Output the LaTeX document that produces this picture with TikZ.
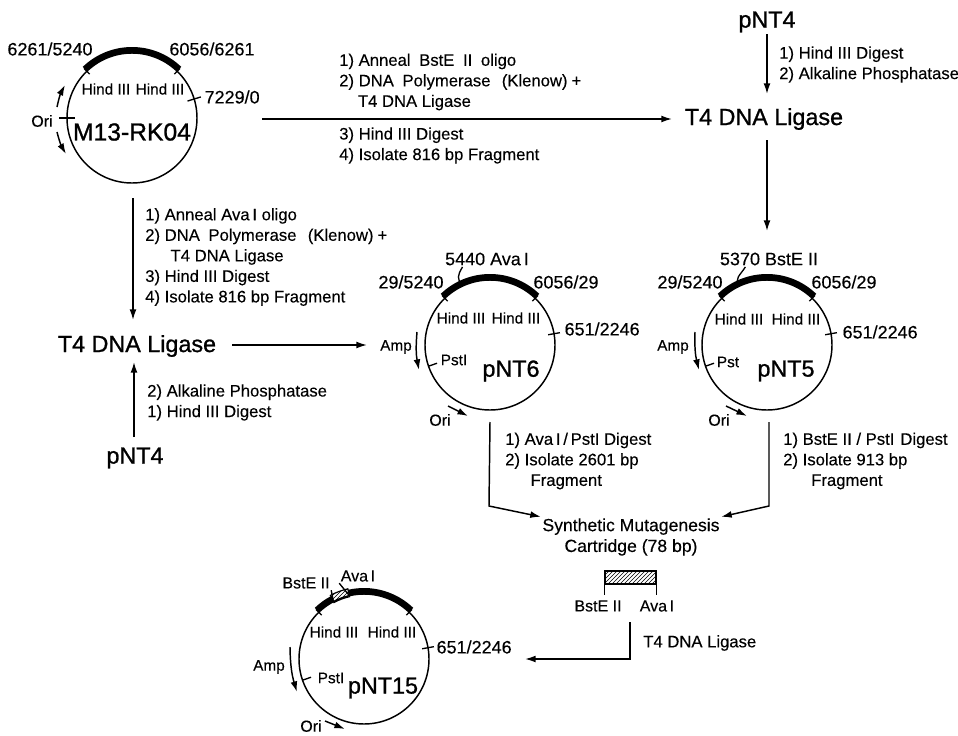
\documentclass[tikz,border=0pt]{standalone}
\usepackage{fontspec}
\setmainfont[FakeBold=0.25]{Liberation Sans}
\newfontfamily\namefont[FakeBold=1]{Liberation Sans}
\usetikzlibrary{arrows.meta,patterns}

\newcommand{\sitetick}[4]{\draw[tick] ([shift={(#2:-#3)}]#1.#2) -- ([shift={(#2:#4)}]#1.#2);}
\newcommand{\insertarc}[3]{\draw[insert] ([shift={(#2:3)}]#1.#2) arc[start angle=#2, end angle=#3, radius=68];}

\begin{document}
\begin{tikzpicture}[
  x=0.75pt, y=0.75pt,
  plasmid/.style={circle, draw, line width=1.1pt, minimum size=97.5pt, inner sep=0pt, outer sep=0pt},
  big/.style={font=\namefont\fontsize{17.5}{20}\selectfont, inner sep=1pt},
  steps/.style={font=\fontsize{12.5}{15.4}\selectfont, align=left, anchor=west, inner sep=0pt},
  site/.style={font=\fontsize{13.5}{16}\selectfont, inner sep=1pt},
  small/.style={font=\fontsize{11.5}{13}\selectfont, inner sep=1pt},
  enzyme/.style={font=\fontsize{12}{14}\selectfont, inner sep=1pt},
  arr/.style={-{Latex[length=2.8mm, width=1.8mm]}, line width=1.1pt},
  tick/.style={line width=1pt},
  insert/.style={line width=4.5pt}
]
\useasboundingbox (0,0) rectangle (958,-736);

% plasmids
\node[plasmid] (m13) at (132,-118) {};
\node[plasmid] (pnt6) at (490,-345) {};
\node[plasmid] (pnt5) at (767,-345) {};
\node[plasmid] (pnt15) at (364,-659) {};

\insertarc{m13}{134}{46}
\insertarc{pnt6}{134}{46}
\insertarc{pnt5}{134}{46}
\insertarc{pnt15}{134}{118}
\insertarc{pnt15}{103}{46}
\draw[line width=0.9pt, pattern=north east lines] ([shift={(118:-1)}]pnt15.118) arc[start angle=118, end angle=103, radius=64] -- ([shift={(103:7)}]pnt15.103) arc[start angle=103, end angle=118, radius=71] -- cycle;

% M13-RK04
\node[font=\namefont\fontsize{18.5}{22}\selectfont, inner sep=1pt] (m13name) at (132,-132) {M13-RK04};
\node[site] (m13a) at (50,-49) {6261/5240};
\node[site] (m13b) at (212,-49) {6056/6261};
\node[small] (m13h1) at (106,-89) {Hind III};
\node[small] (m13h2) at (160,-89) {Hind III};
\node[site, anchor=west] (m13c) at (203,-97) {7229/0};
\node[enzyme] (m13ori) at (42,-121) {Ori};
\sitetick{m13}{134}{4}{4}
\sitetick{m13}{46}{4}{4}
\sitetick{m13}{17}{7}{7}
\sitetick{m13}{180}{8}{8}
\coordinate (oriup1) at (57,-107);
\coordinate (oriup2) at (65,-85);
\coordinate (oridn1) at (57,-132);
\coordinate (oridn2) at (66,-154);
\draw[arr] (oriup1) to[bend left=8] (oriup2);
\draw[arr] (oridn1) to[bend right=8] (oridn2);

% pNT6
\node[big] (pnt6name) at (511,-371) {pNT6};
\node[site] (pnt6ava) at (487,-259) {5440 Ava\,I};
\node[site] (pnt6a) at (411,-282) {29/5240};
\node[site] (pnt6b) at (566,-282) {6056/29};
\node[small] (pnt6h1) at (461,-318) {Hind III};
\node[small] (pnt6h2) at (516,-318) {Hind III};
\node[site, anchor=west] (pnt6c) at (563,-329) {651/2246};
\node[small] (pnt6amp) at (396,-347) {Amp};
\node[small] (pnt6pst) at (454,-360) {PstI};
\node[enzyme] (pnt6ori) at (440,-420) {Ori};
\sitetick{pnt6}{134}{4}{4}
\sitetick{pnt6}{46}{4}{4}
\sitetick{pnt6}{10}{6}{6}
\sitetick{pnt6}{199}{0}{-9}
\draw[tick] (pnt6ava.south west) ++(19,0) .. controls +(-5,-8) and +(-6,7) .. (pnt6.115);
\coordinate (amp6a) at (417,-332);
\coordinate (amp6b) at (419,-370);
\coordinate (ori6a) at (448,-406);
\coordinate (ori6b) at (468,-416);
\draw[arr] (amp6a) to[bend right=8] (amp6b);
\draw[arr] (ori6a) -- (ori6b);

% pNT5
\node[big] (pnt5name) at (786,-371) {pNT5};
\node[site] (pnt5bst) at (769,-259) {5370 BstE II};
\node[site] (pnt5a) at (690,-282) {29/5240};
\node[site] (pnt5b) at (844,-282) {6056/29};
\node[small] (pnt5h1) at (739,-319) {Hind III};
\node[small] (pnt5h2) at (796,-319) {Hind III};
\node[site, anchor=west] (pnt5c) at (841,-332) {651/2246};
\node[small] (pnt5amp) at (673,-347) {Amp};
\node[small] (pnt5pst) at (728,-362) {Pst};
\node[enzyme] (pnt5ori) at (719,-420) {Ori};
\sitetick{pnt5}{134}{4}{4}
\sitetick{pnt5}{46}{4}{4}
\sitetick{pnt5}{10}{6}{6}
\sitetick{pnt5}{199}{0}{-9}
\draw[tick] (pnt5bst.south west) ++(27,0) .. controls +(-5,-8) and +(-6,7) .. (pnt5.115);
\coordinate (amp5a) at (695,-332);
\coordinate (amp5b) at (699,-370);
\coordinate (ori5a) at (726,-406);
\coordinate (ori5b) at (747,-416);
\draw[arr] (amp5a) to[bend right=8] (amp5b);
\draw[arr] (ori5a) -- (ori5b);

% pNT15
\node[big] (pnt15name) at (383,-688) {pNT15};
\node[enzyme] (pnt15bst) at (306,-583) {BstE II};
\node[enzyme] (pnt15ava) at (358,-576) {Ava\,I};
\node[small] (pnt15h1) at (334,-632) {Hind III};
\node[small] (pnt15h2) at (392,-632) {Hind III};
\node[site, anchor=west] (pnt15c) at (435,-647) {651/2246};
\node[small] (pnt15amp) at (269,-667) {Amp};
\node[small] (pnt15pst) at (331,-678) {PstI};
\node[enzyme] (pnt15ori) at (311,-726) {Ori};
\sitetick{pnt15}{134}{4}{4}
\sitetick{pnt15}{46}{4}{4}
\sitetick{pnt15}{10}{6}{6}
\sitetick{pnt15}{199}{0}{-9}
\draw[tick] (pnt15bst.south east) -- (pnt15.118);
\draw[tick] (pnt15ava.south west) -- (pnt15.103);
\coordinate (amp15a) at (290,-647);
\coordinate (amp15b) at (297,-692);
\coordinate (ori15a) at (325,-721);
\coordinate (ori15b) at (345,-729);
\draw[arr] (amp15a) to[bend right=8] (amp15b);
\draw[arr] (ori15a) -- (ori15b);

% top row
\node[big] (top4) at (767,-22) {pNT4};
\node[big] (lig1) at (764,-119) {T4 DNA Ligase};
\node[steps] (s1) at (779,-64.5) {1) Hind III Digest\\2) Alkaline Phosphatase};
\node[steps] (s2) at (339,-82) {1) Anneal\hspace{3pt} BstE\hspace{3pt} II\hspace{3pt} oligo\\2) DNA\hspace{3pt} Polymerase\hspace{5pt} (Klenow)\hspace{3pt}+\\\hspace{14pt}T4 DNA Ligase};
\node[steps] (s3) at (339,-145.5) {3) Hind III Digest\\4) Isolate 816 bp Fragment};
\coordinate (m13out) at (262,-119);
\coordinate (lig1in) at (672,-119);
\coordinate (top5) at (767,-231);
\coordinate (top4down) at (767,-94);
\coordinate (lig1down) at (767,-140);
\draw[arr] (top4) -- (top4down);
\draw[arr] (m13out) -- (lig1in);
\draw[arr] (lig1down) -- (top5);

% left column
\node[big] (lig2) at (137,-346) {T4 DNA Ligase};
\node[big] (low4) at (135,-458) {pNT4};
\node[steps] (s4) at (145,-257) {1) Anneal Ava\,I oligo\\2) DNA\hspace{3pt} Polymerase\hspace{5pt} (Klenow)\hspace{3pt}+\\\hspace{19pt}T4 DNA Ligase\\3) Hind III Digest\\4) Isolate 816 bp Fragment};
\node[steps] (s5) at (147,-402.5) {2) Alkaline Phosphatase\\1) Hind III Digest};
\coordinate (m13down) at (133,-198);
\coordinate (lig2top) at (133,-320);
\coordinate (lig2bot) at (134,-362);
\coordinate (low4top) at (134,-437);
\coordinate (lig2out) at (232,-345);
\coordinate (pnt6in) at (367,-345);
\draw[arr] (m13down) -- (lig2top);
\draw[arr] (low4top) -- (lig2bot);
\draw[arr] (lig2out) -- (pnt6in);

% cartridge
\node[steps] (s6) at (505,-461) {1) Ava\,I\,/\,PstI Digest\\2) Isolate 2601 bp\\\hspace{19pt}Fragment};
\node[steps] (s7) at (783,-461) {1) BstE II / PstI\hspace{1pt} Digest\\2) Isolate 913 bp\\\hspace{21pt}Fragment};
\node[font=\fontsize{13.2}{15.6}\selectfont, align=center, inner sep=1pt] (synth) at (631,-537) {Synthetic Mutagenesis\\Cartridge (78 bp)};
\node[draw, line width=1.2pt, pattern=north east lines, minimum width=38pt, minimum height=9.5pt, inner sep=0pt] (cart) at (630.5,-577.5) {};
\node[enzyme] (cartbst) at (598,-606) {BstE II};
\node[enzyme] (cartava) at (657,-606) {Ava\,I};
\node[steps] (s8) at (643,-643) {T4 DNA Ligase};
\draw[tick] (cart.south west) -- ++(0,-10);
\draw[tick] (cart.south east) -- ++(0,-10);
\coordinate (d6a) at (490,-422);
\coordinate (d6b) at (489,-506);
\coordinate (d5a) at (769,-422);
\coordinate (d5b) at (769,-506);
\coordinate (t4a) at (630,-622);
\coordinate (t4b) at (630,-659);
\coordinate (pnt15in) at (525,-659);
\draw[arr] (d6a) -- (d6b) -- (synth.north west);
\draw[arr] (d5a) -- (d5b) -- (synth.north east);
\draw[arr] (t4a) -- (t4b) -- (pnt15in);

\end{tikzpicture}
\end{document}
